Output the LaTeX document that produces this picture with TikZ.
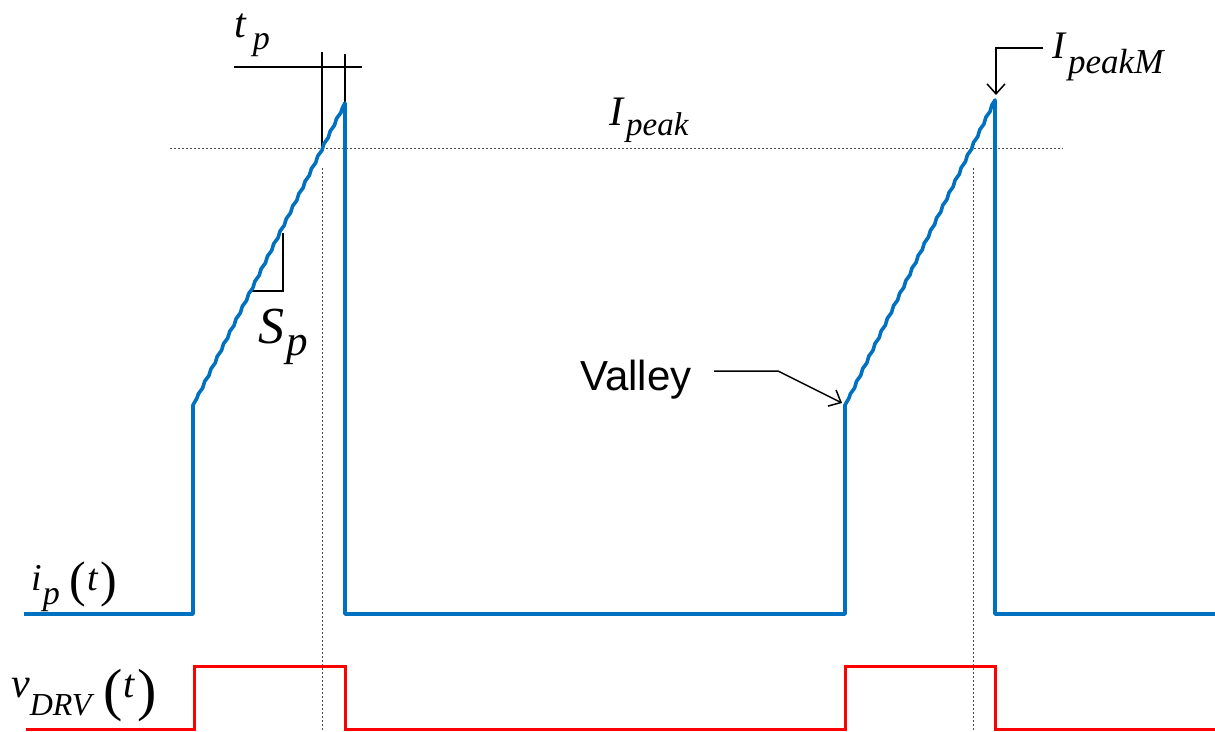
\documentclass[tikz,border=0pt]{standalone}
\usepackage{fontspec}
\setmainfont{Liberation Serif}
\newfontfamily\lsans{Liberation Sans}
\usetikzlibrary{decorations.pathmorphing,arrows.meta}
\newcommand{\fs}[1]{\fontsize{#1}{#1}\selectfont}
\newcommand{\bigpar}[3]{\raisebox{#2}{\fs{#1}\upshape #3}}
\definecolor{wblue}{RGB}{0,112,192}
\definecolor{wred}{RGB}{255,0,0}
\tikzset{
  bluewave/.style={draw=wblue,line width=3.6pt,line join=round,
    decoration={snake,segment length=14pt,amplitude=0.6pt}},
  redwave/.style={draw=wred,line width=3pt,line join=miter},
  guide/.style={draw=black!70,line width=0.9pt,dash pattern=on 2pt off 2pt},
  marker/.style={draw=black,line width=1.3pt},
  callout/.style={draw=black,line width=1.5pt,-{Straight Barb[length=10pt,width=18pt]}},
  lbl/.style={inner sep=0pt,font=\itshape,anchor=base west},
}
\begin{document}
\begin{tikzpicture}[x=1pt,y=-1pt]
\useasboundingbox (0,0) rectangle (1215,731);
% key points
\coordinate (p1) at (345,103);
\coordinate (p2) at (995,100);
\coordinate (v2) at (845,405);
\coordinate (c1) at (322,148);
% guides
\draw[guide] (170,148) -- (1063,148);
\draw[guide] (322,168) -- (322,731);
\draw[guide] (973,168) -- (973,731);
% t_p markers
\draw[marker] (234,67) -- (362,67);
\draw[marker] (322,52) -- (c1);
\draw[marker] (345,54) -- (p1);
% S_p triangle
\draw[marker] (250,291) -- (283,291) -- (283,233);
% current waveform
\draw[bluewave] (24,614) -- (193,614) -- (193,405) -- (197,398)
  decorate { -- (p1) } -- (345,614) -- (845,614) -- (v2) -- (849,398)
  decorate { -- (p2) } -- (995,614) -- (1215,614);
% drive waveform
\draw[redwave] (26,729) -- (194,729) -- (194,666) -- (345,666) -- (345,729)
  -- (845,729) -- (845,666) -- (995,666) -- (995,729) -- (1215,729);
% labels
\node[lbl] (tp) at (234,37) {{\fs{42}t}\hspace{7pt}\raisebox{-12pt}{\fs{34}p}};
\node[lbl] (ipk) at (609,125) {{\fs{42}I}\hspace{3pt}\raisebox{-10pt}{\fs{33}peak}};
\node[lbl] (ipkm) at (1052,58) {{\fs{39}I}\hspace{3pt}\raisebox{-15pt}{\fs{35}peakM}};
\node[lbl] (sp) at (258,343) {{\fs{52}S}\hspace{2pt}\raisebox{-12pt}{\fs{43}p}};
\node[lbl] (ip) at (31,590) {{\fs{38}i}\hspace{1pt}\raisebox{-14pt}{\fs{34}p}\hspace{10pt}\bigpar{50}{-6pt}{(}\hspace{1pt}{\fs{38}t}\hspace{3pt}\bigpar{50}{-6pt}{)}};
\node[lbl] (vd) at (11,697) {{\fs{42}v}\raisebox{-18pt}{\fs{32}DRV}\hspace{12pt}\bigpar{58}{-12pt}{(}\hspace{1pt}{\fs{40}t}\hspace{3pt}\bigpar{58}{-12pt}{)}};
\node[inner sep=0pt,anchor=base west,font=\lsans\fs{42}] (valley) at (580,390) {Valley};
% callouts
\coordinate (vbend) at (778,371);
\draw[callout] (714,371) -- (vbend) -- (842,403);
\coordinate (mbend) at (996,48);
\draw[callout] (1043,48) -- (mbend) -- (996,95);
\end{tikzpicture}
\end{document}
